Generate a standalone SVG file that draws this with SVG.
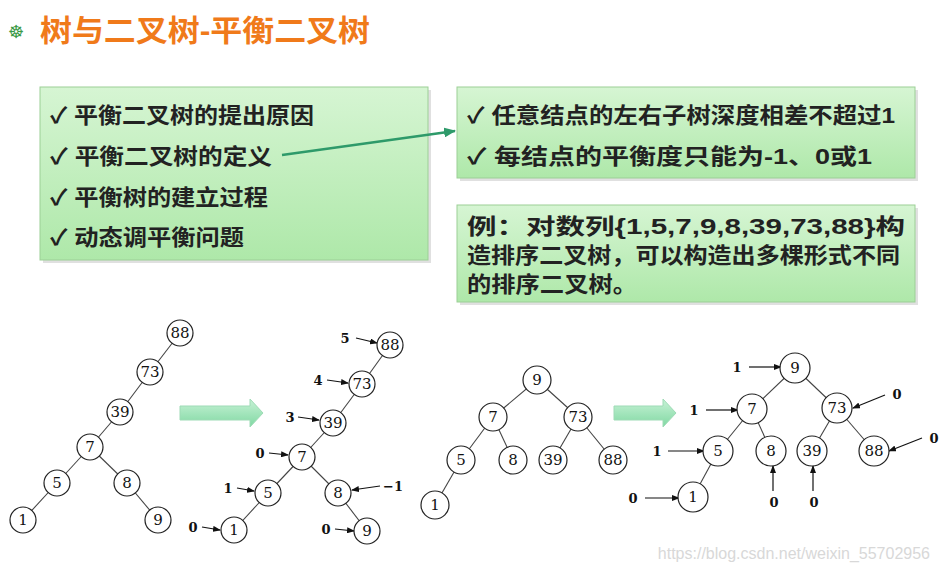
<svg xmlns="http://www.w3.org/2000/svg" width="941" height="570" viewBox="0 0 941 570">
<defs>
<linearGradient id="bg" x1="0" y1="0" x2="0" y2="1"><stop offset="0" stop-color="#d6f5d3"/><stop offset="1" stop-color="#aee8a9"/></linearGradient>
<linearGradient id="ag" x1="0" y1="0" x2="0" y2="1"><stop offset="0" stop-color="#c8f2d6"/><stop offset="1" stop-color="#7fd8a2"/></linearGradient>
<marker id="ah" markerWidth="8" markerHeight="6" refX="7" refY="3" orient="auto" markerUnits="userSpaceOnUse"><path d="M0,0 L8,3 L0,6 Z" fill="#111"/></marker>
<marker id="gh" markerWidth="12" markerHeight="10" refX="11" refY="5" orient="auto" markerUnits="userSpaceOnUse"><path d="M0,0 L12,5 L0,10 Z" fill="#2e9a6a"/></marker>
</defs>
<style>
.box{fill:url(#bg);stroke:#9ccf96;stroke-width:1}
.sh{fill:#ccc;opacity:.6}
.bt{font-family:"Liberation Sans","Noto Sans CJK SC",sans-serif;font-size:22px;font-weight:bold;fill:#222}
.n circle{fill:#fff;stroke:#222;stroke-width:1.2}
.n text{font-family:"DejaVu Serif","Liberation Serif",serif;font-size:15px;text-anchor:middle;fill:#111}
.e line{stroke:#444;stroke-width:1.1}
.lb{font-family:"DejaVu Serif","Liberation Serif",serif;font-size:13px;font-weight:bold;fill:#111;text-anchor:middle}
.ar{stroke:#111;stroke-width:1.2;marker-end:url(#ah)}
.big{fill:url(#ag);stroke:#9edbb6}
</style>
<rect width="941" height="570" fill="#fff"/>
<g id="title">
<text x="16" y="38" font-family="DejaVu Sans,sans-serif" font-size="18" fill="#3a9a46" text-anchor="middle">☸</text>
<text x="40" y="41" font-family="Liberation Sans,Noto Sans CJK SC,sans-serif" font-size="30" font-weight="bold" fill="#f07a1a" textLength="330" lengthAdjust="spacingAndGlyphs">树与二叉树-平衡二叉树</text>
</g>
<g id="box1">
<rect class="sh" x="43" y="90" width="388" height="173"/>
<rect class="box" x="40" y="87" width="388" height="173"/>
<text class="bt" x="50" y="123" textLength="264" lengthAdjust="spacingAndGlyphs">✓ 平衡二叉树的提出原因</text>
<text class="bt" x="50" y="164" textLength="222" lengthAdjust="spacingAndGlyphs">✓ 平衡二叉树的定义</text>
<text class="bt" x="50" y="205" textLength="218" lengthAdjust="spacingAndGlyphs">✓ 平衡树的建立过程</text>
<text class="bt" x="50" y="245" textLength="194" lengthAdjust="spacingAndGlyphs">✓ 动态调平衡问题</text>
</g>
<g id="box2">
<rect class="sh" x="460" y="90" width="458" height="91"/>
<rect class="box" x="457" y="87" width="458" height="91"/>
<text class="bt" x="467" y="123" textLength="428" lengthAdjust="spacingAndGlyphs">✓ 任意结点的左右子树深度相差不超过1</text>
<text class="bt" x="467" y="164" textLength="405" lengthAdjust="spacingAndGlyphs">✓ 每结点的平衡度只能为-1、0或1</text>
</g>
<g id="box3">
<rect class="sh" x="460" y="208" width="458" height="97"/>
<rect class="box" x="457" y="205" width="458" height="97"/>
<text class="bt" x="467" y="234" textLength="438" lengthAdjust="spacingAndGlyphs">例：对数列{1,5,7,9,8,39,73,88}构</text>
<text class="bt" x="467" y="263" textLength="433" lengthAdjust="spacingAndGlyphs">造排序二叉树，可以构造出多棵形式不同</text>
<text class="bt" x="467" y="292" textLength="170" lengthAdjust="spacingAndGlyphs">的排序二叉树。</text>
</g>
<g id="connectors">
<line x1="282" y1="155" x2="455" y2="131" stroke="#2e9a6a" stroke-width="2.5" marker-end="url(#gh)"/>
<path class="big" d="M180,406 H250 V399 L263,413 L250,427 V420 H180 Z"/>
<path class="big" d="M614,406 H663 V399 L676,413 L663,427 V420 H614 Z"/>
<g class="e">
<line x1="180" y1="333" x2="150" y2="372"/><line x1="150" y1="372" x2="120" y2="412"/><line x1="120" y1="412" x2="90" y2="447"/><line x1="90" y1="447" x2="57" y2="483"/><line x1="90" y1="447" x2="127" y2="483"/><line x1="57" y1="483" x2="23" y2="520"/><line x1="127" y1="483" x2="158" y2="520"/>
<line x1="390" y1="345" x2="362" y2="384"/><line x1="362" y1="384" x2="333" y2="423"/><line x1="333" y1="423" x2="302" y2="457"/><line x1="302" y1="457" x2="268" y2="493"/><line x1="302" y1="457" x2="338" y2="493"/><line x1="268" y1="493" x2="234" y2="530"/><line x1="338" y1="493" x2="367" y2="531"/>
<line x1="537" y1="380" x2="493" y2="417"/><line x1="537" y1="380" x2="578" y2="417"/><line x1="493" y1="417" x2="461" y2="460"/><line x1="493" y1="417" x2="513" y2="460"/><line x1="578" y1="417" x2="553" y2="460"/><line x1="578" y1="417" x2="613" y2="460"/><line x1="461" y1="460" x2="435" y2="505"/>
<line x1="795" y1="368" x2="752" y2="409"/><line x1="795" y1="368" x2="837" y2="408"/><line x1="752" y1="409" x2="718" y2="451"/><line x1="752" y1="409" x2="771" y2="451"/><line x1="837" y1="408" x2="812" y2="451"/><line x1="837" y1="408" x2="874" y2="451"/><line x1="718" y1="451" x2="693" y2="497"/>
</g>
<line class="ar" x1="356" y1="338" x2="377" y2="343"/>
<line class="ar" x1="327" y1="380" x2="348" y2="383"/>
<line class="ar" x1="298" y1="417" x2="319" y2="420"/>
<line class="ar" x1="269" y1="453" x2="288" y2="455"/>
<line class="ar" x1="237" y1="488" x2="254" y2="491"/>
<line class="ar" x1="380" y1="486" x2="352" y2="490"/>
<line class="ar" x1="202" y1="527" x2="220" y2="530"/>
<line class="ar" x1="335" y1="529" x2="354" y2="531"/>
<line class="ar" x1="749" y1="367" x2="781" y2="367"/>
<line class="ar" x1="706" y1="410" x2="738" y2="410"/>
<line class="ar" x1="885" y1="395" x2="853" y2="408"/>
<line class="ar" x1="668" y1="451" x2="704" y2="451"/>
<line class="ar" x1="922" y1="438" x2="889" y2="451"/>
<line class="ar" x1="645" y1="498" x2="679" y2="498"/>
<line class="ar" x1="773" y1="491" x2="773" y2="466"/>
<line class="ar" x1="813" y1="491" x2="813" y2="466"/>
</g>
<g class="lb">
<text x="345" y="343">5</text><text x="318" y="385">4</text><text x="290" y="422">3</text><text x="260" y="458">0</text><text x="228" y="493">1</text><text x="393" y="491">−1</text><text x="193" y="532">0</text><text x="326" y="534">0</text>
<text x="737" y="372">1</text><text x="694" y="415">1</text><text x="897" y="399">0</text><text x="657" y="456">1</text><text x="934" y="443">0</text><text x="633" y="503">0</text><text x="774" y="507">0</text><text x="814" y="507">0</text>
</g>
<g id="t1-88" class="n"><circle cx="180" cy="333" r="13"/><text x="180" y="338">88</text></g>
<g id="t1-73" class="n"><circle cx="150" cy="372" r="13"/><text x="150" y="377">73</text></g>
<g id="t1-39" class="n"><circle cx="120" cy="412" r="13"/><text x="120" y="417">39</text></g>
<g id="t1-7" class="n"><circle cx="90" cy="447" r="13"/><text x="90" y="452">7</text></g>
<g id="t1-5" class="n"><circle cx="57" cy="483" r="13"/><text x="57" y="488">5</text></g>
<g id="t1-8" class="n"><circle cx="127" cy="483" r="13"/><text x="127" y="488">8</text></g>
<g id="t1-1" class="n"><circle cx="23" cy="520" r="13"/><text x="23" y="525">1</text></g>
<g id="t1-9" class="n"><circle cx="158" cy="520" r="13"/><text x="158" y="525">9</text></g>
<g id="t2-88" class="n"><circle cx="390" cy="345" r="13"/><text x="390" y="350">88</text></g>
<g id="t2-73" class="n"><circle cx="362" cy="384" r="13"/><text x="362" y="389">73</text></g>
<g id="t2-39" class="n"><circle cx="333" cy="423" r="13"/><text x="333" y="428">39</text></g>
<g id="t2-7" class="n"><circle cx="302" cy="457" r="13"/><text x="302" y="462">7</text></g>
<g id="t2-5" class="n"><circle cx="268" cy="493" r="13"/><text x="268" y="498">5</text></g>
<g id="t2-8" class="n"><circle cx="338" cy="493" r="13"/><text x="338" y="498">8</text></g>
<g id="t2-1" class="n"><circle cx="234" cy="530" r="13"/><text x="234" y="535">1</text></g>
<g id="t2-9" class="n"><circle cx="367" cy="531" r="13"/><text x="367" y="536">9</text></g>
<g id="t3-9" class="n"><circle cx="537" cy="380" r="14"/><text x="537" y="385">9</text></g>
<g id="t3-7" class="n"><circle cx="493" cy="417" r="14"/><text x="493" y="422">7</text></g>
<g id="t3-73" class="n"><circle cx="578" cy="417" r="14"/><text x="578" y="422">73</text></g>
<g id="t3-5" class="n"><circle cx="461" cy="460" r="14"/><text x="461" y="465">5</text></g>
<g id="t3-8" class="n"><circle cx="513" cy="460" r="14"/><text x="513" y="465">8</text></g>
<g id="t3-39" class="n"><circle cx="553" cy="460" r="14"/><text x="553" y="465">39</text></g>
<g id="t3-88" class="n"><circle cx="613" cy="460" r="14"/><text x="613" y="465">88</text></g>
<g id="t3-1" class="n"><circle cx="435" cy="505" r="14"/><text x="435" y="510">1</text></g>
<g id="t4-9" class="n"><circle cx="795" cy="368" r="15"/><text x="795" y="373">9</text></g>
<g id="t4-7" class="n"><circle cx="752" cy="409" r="15"/><text x="752" y="414">7</text></g>
<g id="t4-73" class="n"><circle cx="837" cy="408" r="15"/><text x="837" y="413">73</text></g>
<g id="t4-5" class="n"><circle cx="718" cy="451" r="15"/><text x="718" y="456">5</text></g>
<g id="t4-8" class="n"><circle cx="771" cy="451" r="15"/><text x="771" y="456">8</text></g>
<g id="t4-39" class="n"><circle cx="812" cy="451" r="15"/><text x="812" y="456">39</text></g>
<g id="t4-88" class="n"><circle cx="874" cy="451" r="15"/><text x="874" y="456">88</text></g>
<g id="t4-1" class="n"><circle cx="693" cy="497" r="15"/><text x="693" y="502">1</text></g>
<text x="930" y="559" text-anchor="end" font-family="Liberation Sans,sans-serif" font-size="16" fill="#d8d8d8">https://blog.csdn.net/weixin_55702956</text>
</svg>
